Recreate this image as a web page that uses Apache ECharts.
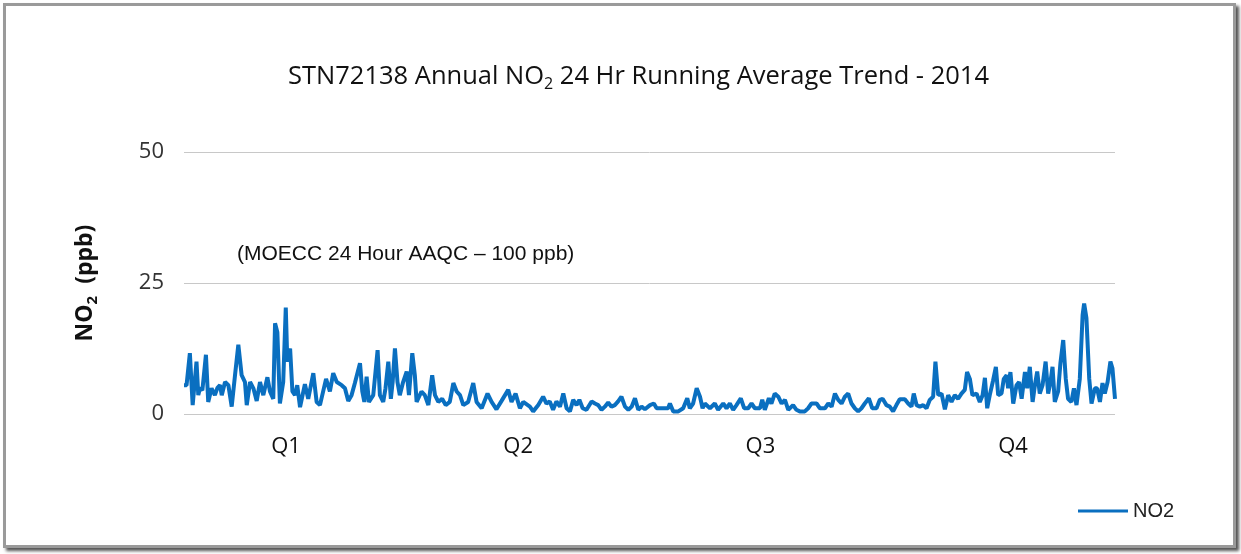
<!DOCTYPE html>
<html><head><meta charset="utf-8">
<script src="https://cdn.jsdelivr.net/npm/echarts@6/dist/echarts.min.js"></script>
<style>
html,body{margin:0;padding:0;background:#fff;overflow:hidden;}
#frame{position:absolute;left:3px;top:3px;width:1227px;height:539px;border:3px solid #9a9a9a;box-shadow:3px 3px 3px #555;background:#fff;}
#chart{position:absolute;left:0;top:0;width:1241px;height:554px;}
</style></head><body>
<div id="frame"></div><div id="chart"></div>
<script>
// Day of year (approx.) for each reading
const days = [
 0,1,2.3,3.4,4.9,5.6,6.3,7.2,8.6,9.5,10.8,12.1,13.1,14.1,14.8,16.1,17.4,18.7,20,21.3,22.6,23.9,24.6,25.9,27.2,28.5,29.8,31.1,32.7,33.7,
 35,35.7,36.6,37.6,38.9,39.9,40.5,41.6,42.5,43.5,44.4,45.5,47.4,48.7,50.7,52,53.3,55.7,57.2,58.5,59.9,61.8,63.1,64.4,65.7,
 67,69,69.9,70.7,71.6,72.5,74.2,75.9,76.8,78.1,79,80.1,81.1,81.8,82.7,83.7,84.6,85.9,87.3,88.2,89.5,90.5,91.2,93.1,94.4,95.8,
 97.3,98.4,99.7,101.2,102.6,104.2,105.6,106.9,108.2,109.5,111.4,113.4,114.7,116.7,119,120.6,122.5,124.5,127.1,128.4,130,131.7,133,
 135.6,136.9,138.9,140.8,142.1,143.4,144.7,146,147.4,148.7,150,151.3,152.6,153.9,155,156.3,157.8,159.8,161.1,162.4,163.7,165,
 166.3,167.6,168.9,170.2,171.5,172.9,174.2,175.5,176.8,178.1,179.4,180.7,182.7,184.2,185.3,187.9,189.8,190.5,191.8,193.8,195.7,
 197.3,198.3,199.6,201,202.3,203.3,
 204.2,206.2,208.1,209.4,211.4,212.7,214,215.3,216.6,218.3,219.6,221.2,222.5,223.8,225.8,226.7,227.7,229.3,230.3,231.6,233,
 234.3,235.6,236.9,238.8,240.1,241.4,243.4,244.7,246,248,249.3,251.3,252.6,253.9,255.2,256.5,257.8,259.1,260.4,261.7,263,
 264.3,265.6,266.9,268.5,269.8,271.5,
 272.8,273.9,275.4,276.7,278,279.3,280.6,282.6,283.9,285.2,286.1,287.2,288.5,289.8,291.1,292.4,293.7,294.6,295.7,297,298.3,
 299.6,300.9,302.2,303.5,304.8,306.1,307,308.1,309.1,310.7,312,313.1,314,314.9,315.9,317.2,318.3,319.2,320.5,321.4,322.5,
 323.1,324,325.1,326.4,327.4,328.4,329.7,330.6,331.6,332.7,333.6,334.5,335.5,336.6,337.8,338.8,339.7,340.5,341.4,342.7,
 343.6,344.7,345.7,346.6,347.9,348.9,349.9,351.2,352.3,352.9,353.8,354.9,355.8,357.1,358,359.1,360.1,361,362.1,363.2,364,365
];
// NO2 24 hr running average (ppb)
const no2 = [
 5.5,5.5,11.6,1.7,10,3.6,5,4.5,11.3,2.3,4.9,3.6,5,5.5,3.6,6.1,5.5,1.4,7.4,13.2,7.4,6.1,1.7,6.1,4.9,2.5,6.1,3.6,7,4.3,
 2.9,17.3,15.6,2,6.1,20.3,10,12.5,4.3,3.6,5.5,1.3,5.7,2.9,7.8,2.3,1.7,6.7,4.3,7.8,6.1,5.5,4.9,2.5,3.6,
 5.9,9.7,4.3,2.3,7.1,2.3,3.6,12.2,3.6,2.3,4.9,10,2.9,6.1,12.5,6.1,3.6,6.1,8.1,3.6,11.6,7.4,2.3,4.3,3.6,1.7,
 7.4,3.6,2.3,2.9,1.7,2.3,5.9,4.3,3.6,1.7,2.3,5.9,2.3,1.1,3.9,2.3,0.9,2.5,4.6,2.3,3.9,1.1,2.3,
 1.4,0.5,1.7,3.3,2.0,2.4,0.8,2.4,1.4,3.9,1.1,0.5,2.7,1.7,2.7,1.1,0.8,2.4,2.0,1.7,0.8,1.4,
 2.2,1.4,1.7,2.4,3.3,1.4,0.8,1.4,3.0,0.8,1.4,0.9,1.7,2.0,1.1,1.1,1.1,2.0,0.5,0.5,1.1,
 3.0,1.1,2.0,4.9,3.3,1.1,
 2.0,1.1,2.0,0.8,2.0,1.1,2.0,0.8,1.7,3.0,1.1,1.1,2.0,1.1,1.1,2.7,0.8,3.0,2.0,3.9,3.3,
 2.0,2.7,0.8,1.7,0.8,0.5,0.5,1.1,2.0,2.0,1.1,1.1,2.0,1.4,3.9,2.7,2.0,3.3,3.9,2.0,1.1,
 0.5,1.1,2.0,3.0,1.1,1.1,
 2.7,2.9,1.7,1.4,0.5,1.7,2.8,2.8,2.0,1.4,3.9,1.7,1.4,1.7,1.1,2.7,3.3,10.0,3.6,3.9,0.9,
 3.6,2.3,3.6,2.9,3.9,4.6,8.0,6.7,3.6,3.9,2.3,3.6,6.9,1.1,3.6,6.4,9.0,3.6,3.9,6.7,7.4,
 4.9,8.0,2.0,5.5,6.1,2.9,8.0,4.9,9.0,2.3,5.5,8.1,3.9,5.5,10.0,3.9,6.1,9.0,2.3,4.3,
 9.7,14.1,6.7,2.9,2.3,4.9,1.7,6.7,18.9,21.1,18.3,6.7,2.0,4.9,4.9,2.3,5.9,3.9,6.1,10.0,8.7,2.9
];
const quarterLabels = ['Q1','Q2','Q3','Q4'];
const quarterLabelDays = [40,131,226,325];
const yMin = 0, yMax = 50, yStep = 25;

const seriesData = days.map((d,i)=>[d, no2[i]]);
const chart = echarts.init(document.getElementById('chart'), null, {renderer:'canvas'});
chart.setOption({
  backgroundColor: 'transparent',
  animation: false,
  title: [{
    text: 'STN72138 Annual NO{sub|2} 24 Hr Running Average Trend - 2014',
    left: 283, top: 56,
    textStyle: {fontFamily: 'Open Sans', fontSize: 25.5, fontWeight: 'normal', color: '#111',
      rich: {sub: {fontFamily: 'Open Sans', fontSize: 16, color: '#111', padding: [15,0,0,0]}}}
  }, {
    text: '(MOECC 24 Hour AAQC \u2013 100 ppb)',
    left: 232, top: 239,
    textStyle: {fontFamily: 'Liberation Sans', fontSize: 21, fontWeight: 'normal', color: '#111'}
  }],
  legend: {
    left: 1078, top: 501, padding: 0, itemWidth: 50, itemHeight: 3, itemGap: 4, icon: 'rect',
    textStyle: {fontFamily: 'Liberation Sans', fontSize: 20, color: '#222', padding: [0,0,0,0]},
    data: ['NO2']
  },
  grid: {left: 184, right: 126, top: 152, bottom: 140, containLabel: false},
  xAxis: {
    type: 'value', min: 0, max: 365,
    axisLine: {show: false}, axisTick: {show: false}, splitLine: {show: false},
    axisLabel: {
      customValues: quarterLabelDays,
      formatter: v => quarterLabels[quarterLabelDays.indexOf(v)] || '',
      fontFamily: 'Open Sans', fontSize: 22, color: '#111', margin: 22
    }
  },
  yAxis: {
    type: 'value', min: yMin, max: yMax, interval: yStep,
    name: 'NO{s|2}  (ppb)', nameLocation: 'middle', nameGap: 84, nameRotate: 90,
    nameTextStyle: {fontFamily: 'Open Sans', fontSize: 23, fontWeight: 'bold', color: '#111',
      rich: {s: {fontFamily: 'Open Sans', fontSize: 15, fontWeight: 'bold', color: '#111', padding: [14,0,0,0]}}},
    axisLine: {show: false}, axisTick: {show: false},
    splitLine: {lineStyle: {color: '#c8c8c8', width: 1}},
    axisLabel: {fontFamily: 'Open Sans', fontSize: 22, color: '#333', margin: 20}
  },
  series: [{
    name: 'NO2', type: 'line', data: seriesData, symbol: 'none', smooth: false,
    lineStyle: {color: '#0a6fc0', width: 4}, itemStyle: {color: '#0a6fc0'}
  }]
});
</script>
</body></html>
